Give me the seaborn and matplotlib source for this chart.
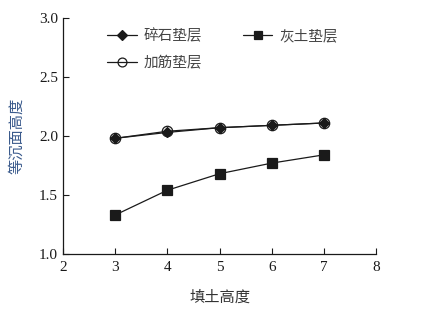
import pandas as pd
import matplotlib
matplotlib.use("Agg")
import matplotlib.pyplot as plt
import seaborn as sns

# data
fill_height = [3, 4, 5, 6, 7]
gravel = [1.98, 2.03, 2.07, 2.09, 2.11]      # 碎石垫层
lime_soil = [1.33, 1.54, 1.68, 1.77, 1.84]   # 灰土垫层
geogrid = [1.98, 2.04, 2.07, 2.09, 2.11]     # 加筋垫层
series_names = ["碎石垫层", "灰土垫层", "加筋垫层"]

df = pd.concat([
    pd.DataFrame({"x": fill_height, "y": vals, "series": name})
    for name, vals in zip(series_names, [gravel, lime_soil, geogrid])
])

sns.set_theme(style="ticks")
plt.rcParams["font.family"] = ["Liberation Serif", "Noto Sans CJK SC", "DejaVu Sans"]

fig = plt.figure(figsize=(4.25, 3.09), dpi=100)
ax = fig.add_axes([0.148, 0.178, 0.737, 0.764])

markers = {"碎石垫层": "D", "灰土垫层": "s", "加筋垫层": "o"}
sizes = {"碎石垫层": 5.5, "灰土垫层": 6.5, "加筋垫层": 7.5}
for name in series_names:
    sub = df[df["series"] == name]
    face = "none" if name == "加筋垫层" else "#1a1a1a"
    sns.lineplot(data=sub, x="x", y="y", ax=ax, color="#1a1a1a", linewidth=0.9,
                 marker=markers[name], markersize=sizes[name],
                 markerfacecolor=face, markeredgecolor="#1a1a1a",
                 markeredgewidth=0.9, label=name)

ax.set_xlim(2, 8)
ax.set_ylim(1.0, 3.0)
ax.set_xticks([2, 3, 4, 5, 6, 7, 8])
ax.set_yticks([1.0, 1.5, 2.0, 2.5, 3.0])
ax.set_yticklabels(["1.0", "1.5", "2.0", "2.5", "3.0"])
ax.tick_params(direction="in", length=4, width=0.8, labelsize=11, colors="#1a1a1a")
ax.tick_params(axis="x", pad=5)
for s in ["top", "right"]:
    ax.spines[s].set_visible(False)
for s in ["left", "bottom"]:
    ax.spines[s].set_linewidth(0.9)
    ax.spines[s].set_color("#1a1a1a")

ax.set_xlabel("填土高度", family=["Noto Sans CJK SC"], fontsize=11, color="#333333", labelpad=11)
ax.set_ylabel("等沉面高度", family=["Noto Sans CJK SC"], fontsize=11, color="#3a5a8c", labelpad=10)

handles, labels = ax.get_legend_handles_labels()
order = [0, 2, 1]
leg = ax.legend([handles[i] for i in order], [labels[i] for i in order],
                ncol=2, loc="upper left", bbox_to_anchor=(0.1, 1.01), frameon=False,
                prop={"family": "Noto Sans CJK SC", "size": 10.5}, labelcolor="#444444",
                handlelength=2.0, columnspacing=2.8, handletextpad=0.5, labelspacing=0.9,
                markerscale=0.85)

fig.savefig("out.png", dpi=100)
